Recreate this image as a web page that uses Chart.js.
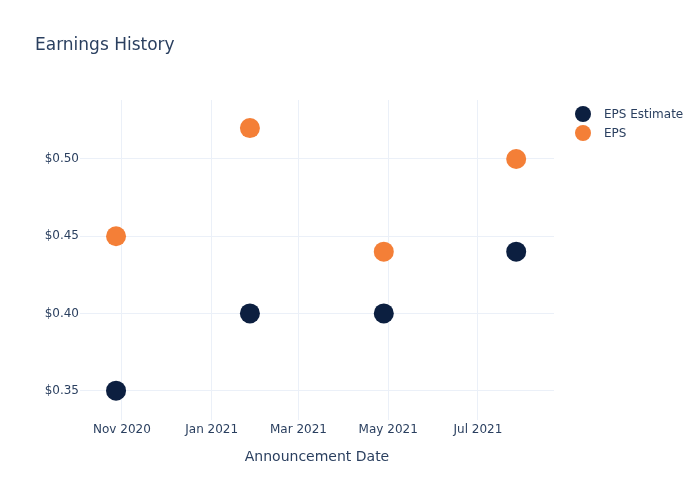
<!DOCTYPE html>
<html>
<head>
<meta charset="utf-8">
<script src="https://cdn.jsdelivr.net/npm/chart.js@4.4.1/dist/chart.umd.min.js"></script>
<style>
  body { margin: 0; background: #fff; font-family: "DejaVu Sans", sans-serif; }
  #wrap { position: relative; width: 700px; height: 500px; }
  #chart { display: block; }
  #title { position: absolute; left: 35px; top: 33px; font-size: 17px; line-height: 22px; color: #2a3f5f; }
  .leg { position: absolute; left: 575px; font-size: 12px; color: #2a3f5f; line-height: 16px; }
  .leg span { display: inline-block; width: 16px; height: 16px; border-radius: 50%; vertical-align: top; margin-right: 13px; }
</style>
</head>
<body>
<div id="wrap">
  <canvas id="chart" width="700" height="500"></canvas>
  <div id="title">Earnings History</div>
  <div class="leg" style="top:106px"><span style="background:#0c1f40"></span>EPS Estimate</div>
  <div class="leg" style="top:125px"><span style="background:#f47f37"></span>EPS</div>
</div>
<script>
// data
const dates = ['2020-10-28', '2021-01-27', '2021-04-28', '2021-07-27'];
const epsEstimate = [0.35, 0.40, 0.40, 0.44];
const eps = [0.45, 0.52, 0.44, 0.50];
const tickDates = ['2020-11-01', '2021-01-01', '2021-03-01', '2021-05-01', '2021-07-01'];
const tickLabels = ['Nov 2020', 'Jan 2021', 'Mar 2021', 'May 2021', 'Jul 2021'];
const yTicks = [0.35, 0.40, 0.45, 0.50];

const day = s => Date.parse(s + 'T00:00:00Z') / 86400000;
const textColor = '#2a3f5f';
const gridColor = '#ebf0f8';

document.addEventListener("DOMContentLoaded", () => {
    const ctx = document.getElementById('chart').getContext('2d');
    new Chart(ctx, {
        type: 'scatter',
        data: {
            datasets: [{
                label: 'EPS Estimate',
                data: dates.map((d, i) => ({ x: day(d), y: epsEstimate[i] })),
                backgroundColor: '#0c1f40',
                borderWidth: 0,
                pointRadius: 10,
                pointHoverRadius: 10
            }, {
                label: 'EPS',
                data: dates.map((d, i) => ({ x: day(d), y: eps[i] })),
                backgroundColor: '#f47f37',
                borderWidth: 0,
                pointRadius: 10,
                pointHoverRadius: 10
            }]
        },
        options: {
            responsive: false,
            animation: false,
            layout: { padding: { top: 100, right: 146, bottom: 0, left: 0 } },
            plugins: { legend: { display: false }, title: { display: false }, tooltip: { enabled: false } },
            scales: {
                x: {
                    type: 'linear',
                    min: day('2020-10-03') + 0.5,
                    max: day('2021-08-21') + 0.7,
                    afterFit: s => { s.height = 80; },
                    afterBuildTicks: s => { s.ticks = tickDates.map(d => ({ value: day(d) })); },
                    grid: { color: gridColor, drawTicks: false },
                    border: { display: false },
                    ticks: {
                        padding: 3,
                        color: textColor,
                        font: { family: 'DejaVu Sans', size: 12 },
                        callback: (v) => tickLabels[tickDates.findIndex(d => day(d) === v)]
                    },
                    title: {
                        display: true,
                        text: 'Announcement Date',
                        color: textColor,
                        font: { family: 'DejaVu Sans', size: 14 },
                        padding: { top: 4, bottom: 34 }
                    }
                },
                y: {
                    min: 0.331,
                    max: 0.5382,
                    afterFit: s => { s.width = 80; },
                    afterBuildTicks: s => { s.ticks = yTicks.map(v => ({ value: v })); },
                    grid: { color: gridColor, drawTicks: false },
                    border: { display: false },
                    ticks: {
                        padding: 1,
                        color: textColor,
                        font: { family: 'DejaVu Sans', size: 12 },
                        callback: v => '$' + v.toFixed(2)
                    }
                }
            }
        }
    });
});
</script>
</body>
</html>
